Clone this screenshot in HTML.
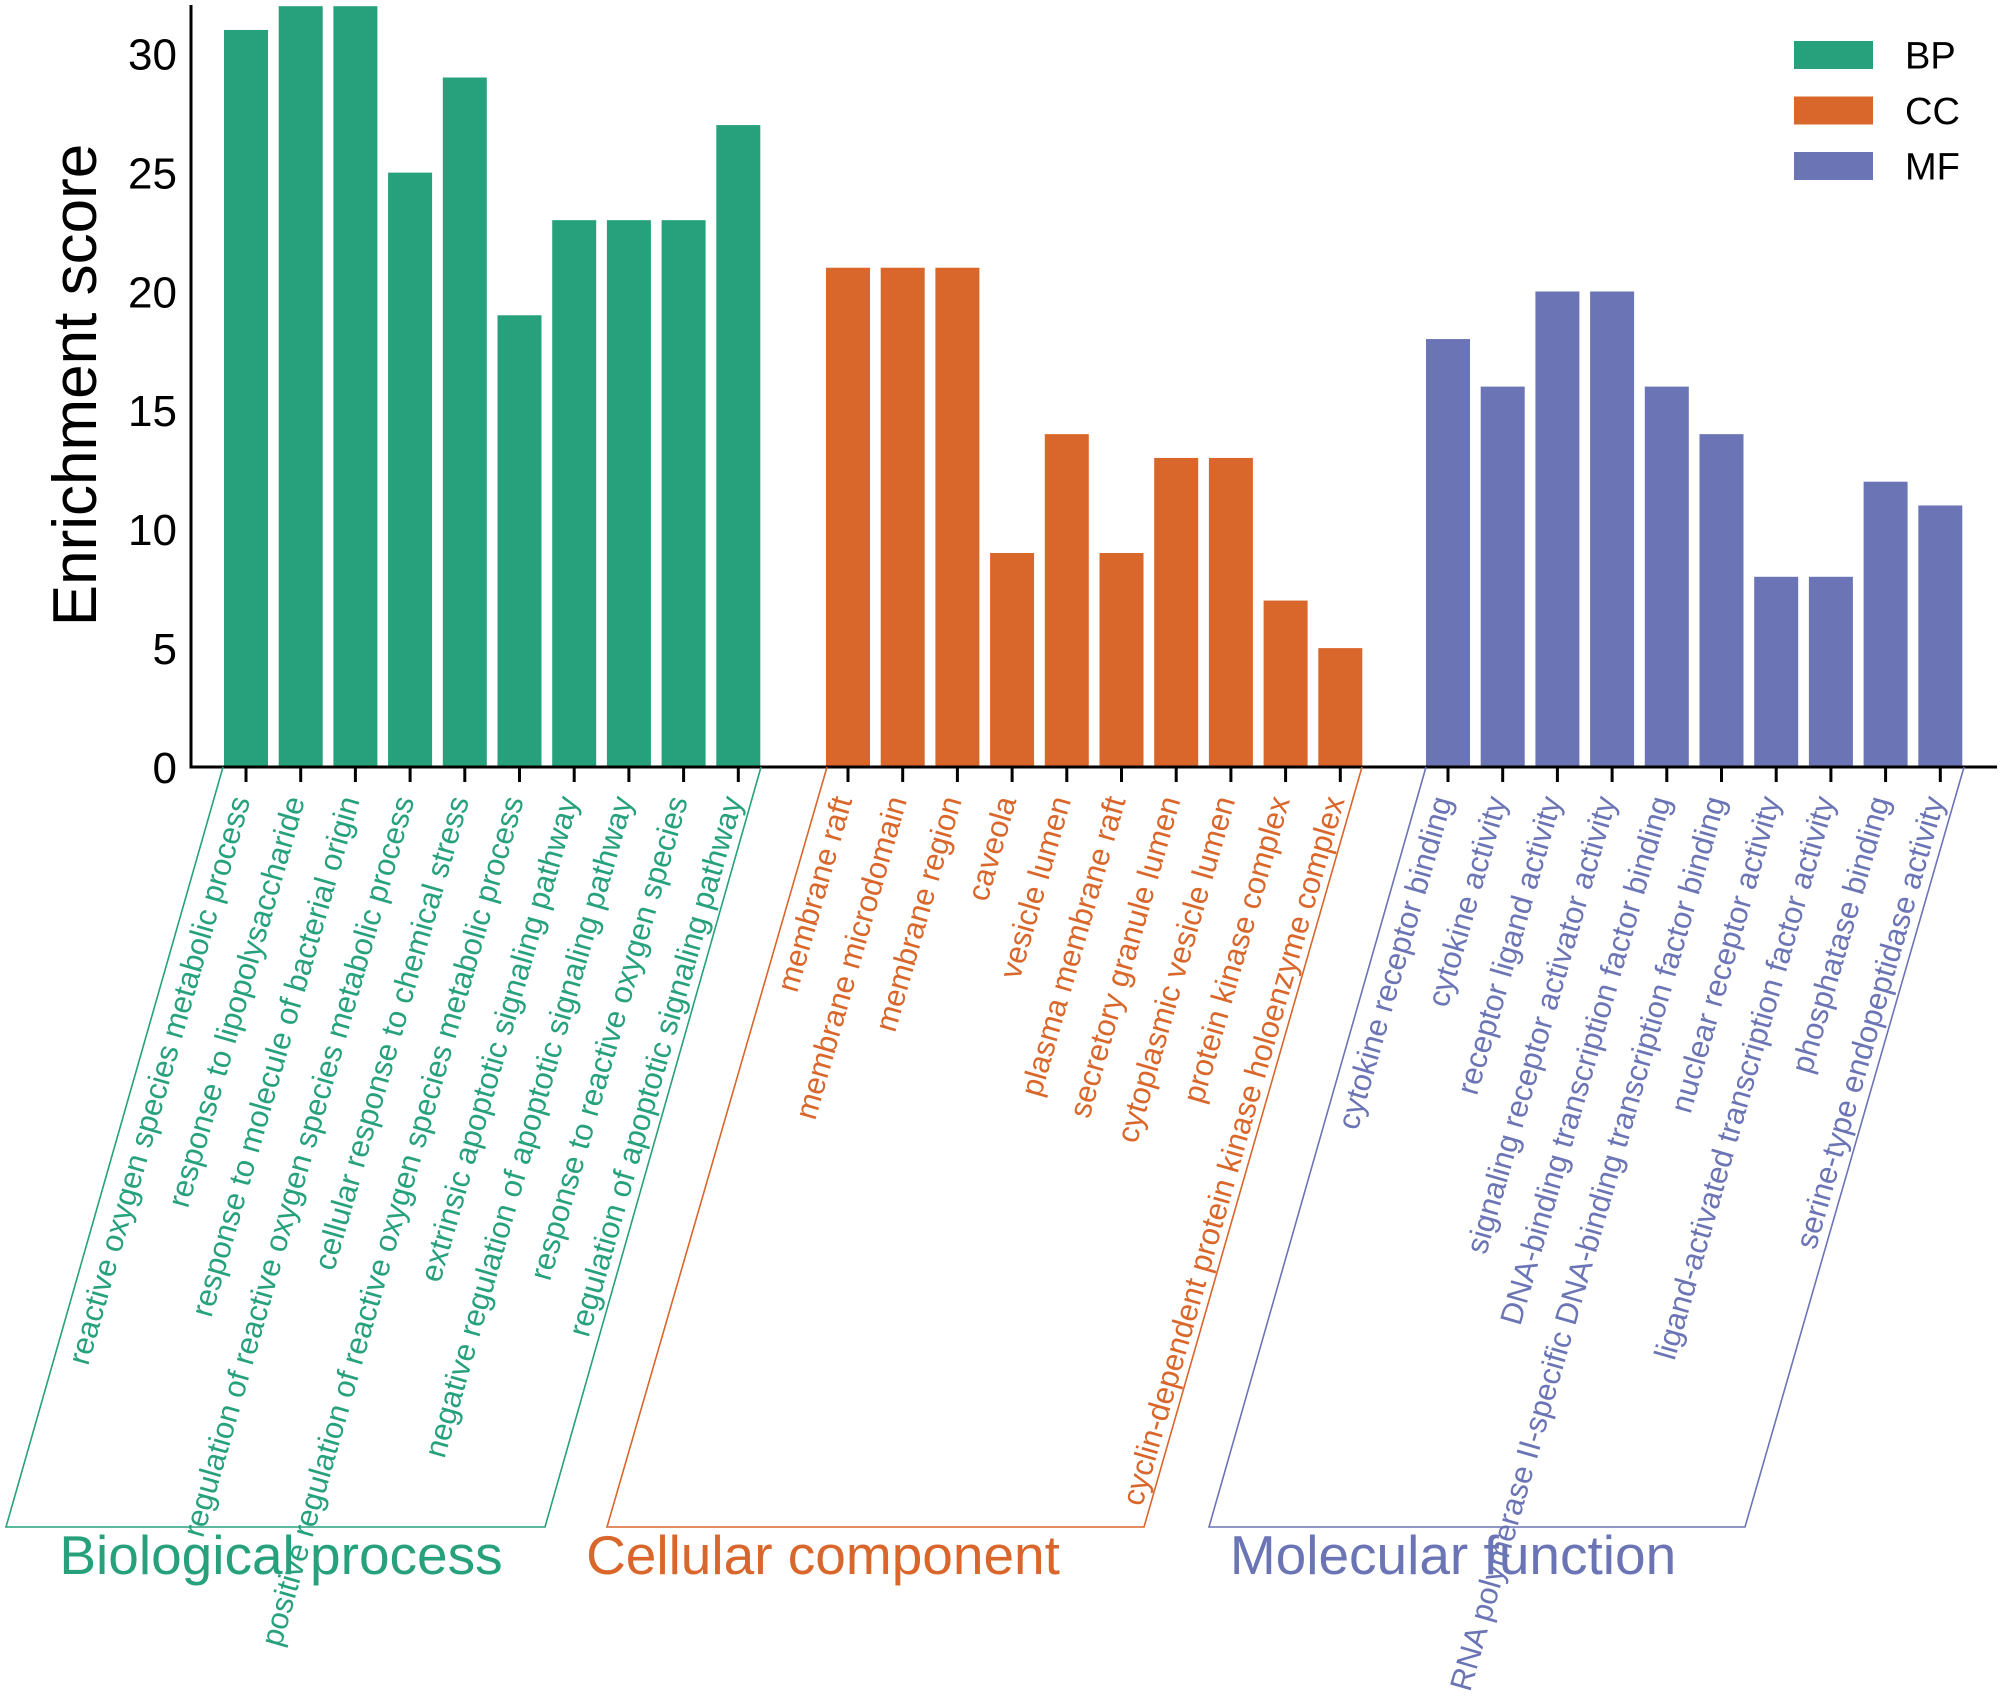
<!DOCTYPE html>
<html><head><meta charset="utf-8"><style>
html,body{margin:0;padding:0;background:#fff}
svg{display:block;font-family:"Liberation Sans",Arial,sans-serif}
</style></head><body>
<svg id="chart" width="2000" height="1706" viewBox="0 0 2000 1706" xmlns="http://www.w3.org/2000/svg">
<g id="bars"></g>
<g id="axes"></g>
<g id="labels"></g>
<g id="brackets"></g>
<g id="legend"></g>
<text x="0" y="0" transform="translate(96,385) rotate(-90)" text-anchor="middle" font-size="62" fill="#000">Enrichment score</text>
</svg>
<script>
const bpLabels = ["reactive oxygen species metabolic process","response to lipopolysaccharide","response to molecule of bacterial origin","regulation of reactive oxygen species metabolic process","cellular response to chemical stress","positive regulation of reactive oxygen species metabolic process","extrinsic apoptotic signaling pathway","negative regulation of apoptotic signaling pathway","response to reactive oxygen species","regulation of apoptotic signaling pathway"];
const bpValues = [31,32,32,25,29,19,23,23,23,27];
const ccLabels = ["membrane raft","membrane microdomain","membrane region","caveola","vesicle lumen","plasma membrane raft","secretory granule lumen","cytoplasmic vesicle lumen","protein kinase complex","cyclin-dependent protein kinase holoenzyme complex"];
const ccValues = [21,21,21,9,14,9,13,13,7,5];
const mfLabels = ["cytokine receptor binding","cytokine activity","receptor ligand activity","signaling receptor activator activity","DNA-binding transcription factor binding","RNA polymerase II-specific DNA-binding transcription factor binding","nuclear receptor activity","ligand-activated transcription factor activity","phosphatase binding","serine-type endopeptidase activity"];
const mfValues = [18,16,20,20,16,14,8,8,12,11];
const yTicks = [0,5,10,15,20,25,30];
const groupNames = ["Biological process","Cellular component","Molecular function"];
const legendKeys = ["BP","CC","MF"];

const NS = "http://www.w3.org/2000/svg";
const colors = ["#26a17b","#d9662a","#6b74b4"];
const y0 = 767, yMax = 32.05, yTop = 5;
function yScale(v){ return y0 - (v / yMax) * (y0 - yTop); }
const groupStart = [246, 848, 1448];
const pitch = 54.7, barW = 44;
function xScale(g, i){ return groupStart[g] + i * pitch; }
function mk(tag, attrs, parent){ const e = document.createElementNS(NS, tag); for (const k in attrs) e.setAttribute(k, attrs[k]); parent.appendChild(e); return e; }

const barsG = document.getElementById('bars');
const labelsG = document.getElementById('labels');
const axesG = document.getElementById('axes');
const brG = document.getElementById('brackets');
const legG = document.getElementById('legend');
const groups = [[bpLabels,bpValues],[ccLabels,ccValues],[mfLabels,mfValues]];

groups.forEach(([labs, vals], g) => {
  vals.forEach((v, i) => {
    const cx = xScale(g, i);
    const top = yScale(v);
    const r = mk('rect', {x: cx - barW/2, y: top, width: barW, height: y0 - top, fill: colors[g]}, barsG);
    
    
    const t = mk('line', {x1: cx, x2: cx, y1: y0, y2: y0 + 15, stroke: '#000', 'stroke-width': 3}, axesG);
    
    
    const lx = cx - 6, ly = y0 + 30;
    const tx = mk('text', {x: lx, y: ly, 'text-anchor': 'end', 'font-size': 31, fill: colors[g], transform: 'rotate(-74 ' + lx + ' ' + ly + ')', dy: '0.35em'}, labelsG);
    tx.textContent = labs[i];
    
    
  });
});

const ya = mk('line', {x1: 191, x2: 191, y1: yTop, y2: y0 + 1.5, stroke: '#000', 'stroke-width': 3}, axesG);


const xa = mk('line', {x1: 189.5, x2: 1997, y1: y0, y2: y0, stroke: '#000', 'stroke-width': 3}, axesG);


yTicks.forEach(v => {
  const t = mk('text', {x: 177, y: yScale(v), 'text-anchor': 'end', 'font-size': 44, fill: '#000', dy: '0.36em'}, axesG);
  t.textContent = v;
  
  
});

const brPts = [[223,6,545,761],[827,607,1144,1362],[1426,1209,1745,1964]];
const titleX = [281, 823, 1453];
brPts.forEach((p, g) => {
  const pl = mk('polyline', {points: p[0]+','+y0+' '+p[1]+',1527 '+p[2]+',1527 '+p[3]+','+y0, fill: 'none', stroke: colors[g], 'stroke-width': 1.6}, brG);
  
  
  const tt = mk('text', {x: titleX[g], y: 1574, 'text-anchor': 'middle', 'font-size': 55, fill: colors[g]}, brG);
  tt.textContent = groupNames[g];
  
  
});

legendKeys.forEach((k, g) => {
  const yy = 41 + g * 55.5;
  const sw = mk('rect', {x: 1794, y: yy, width: 79, height: 28, fill: colors[g]}, legG);
  
  
  const lt = mk('text', {x: 1905, y: yy + 14, 'font-size': 38, fill: '#000', dy: '0.36em'}, legG);
  lt.textContent = k;
  
  
});
</script>
</body></html>
